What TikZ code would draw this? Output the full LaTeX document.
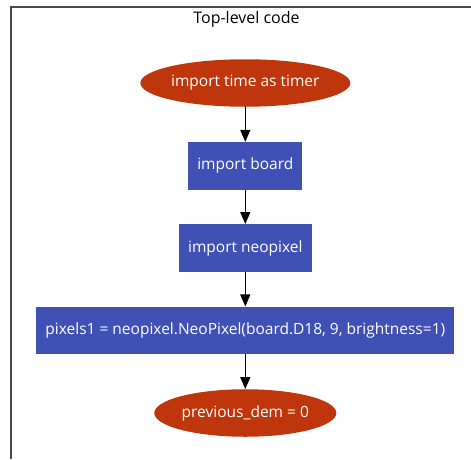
\documentclass[tikz,border=0pt]{standalone}
\usepackage{fontspec}
\setmainfont{Open Sans}
\usetikzlibrary{shapes.geometric,arrows.meta}
\definecolor{termred}{HTML}{BF360C}
\definecolor{stepblue}{HTML}{3F51B5}
\definecolor{framegray}{HTML}{4A4A4A}
\tikzset{
  nodefont/.style={font=\fontsize{15.5}{18}\selectfont},
  terminal/.style={ellipse, fill=termred, text=white, inner sep=0pt,
    minimum width=#1, minimum height=47.5pt, nodefont},
  stepbox/.style={rectangle, fill=stepblue, text=white, inner sep=0pt,
    minimum width=#1, minimum height=47.5pt, nodefont},
  flow/.style={-{Triangle[length=12pt,width=10pt]}, line width=1.3pt, black},
}
\begin{document}
\begin{tikzpicture}[x=1pt,y=-1pt]
  \useasboundingbox (0,0) rectangle (471,459);
  % frame of the top-level cluster
  \coordinate (fr) at (471,6.7);
  \coordinate (fc) at (10.5,6.7);
  \coordinate (fb) at (10.5,459);
  \draw[framegray, line width=2pt] (fr) -- (fc) -- (fb);
  \node[font=\fontsize{16}{19}\selectfont] (title) at (246.5,19.5) {Top-level code};

  \node[terminal=207.5pt] (a) at (245.3,83) {import time as timer};
  \node[stepbox=114pt] (b) at (245.3,165.8) {import board};
  \node[stepbox=132.7pt] (c) at (245.3,248) {import neopixel};
  \node[stepbox=418pt] (d) at (245.3,330.4) {pixels1 = neopixel.NeoPixel(board.D18, 9, brightness=1)};
  \node[terminal=182pt] (e) at (245.3,413) {previous\_dem = 0};

  \draw[flow] (a) -- (b);
  \draw[flow] (b) -- (c);
  \draw[flow] (c) -- (d);
  \draw[flow] (d) -- (e);
\end{tikzpicture}
\end{document}
